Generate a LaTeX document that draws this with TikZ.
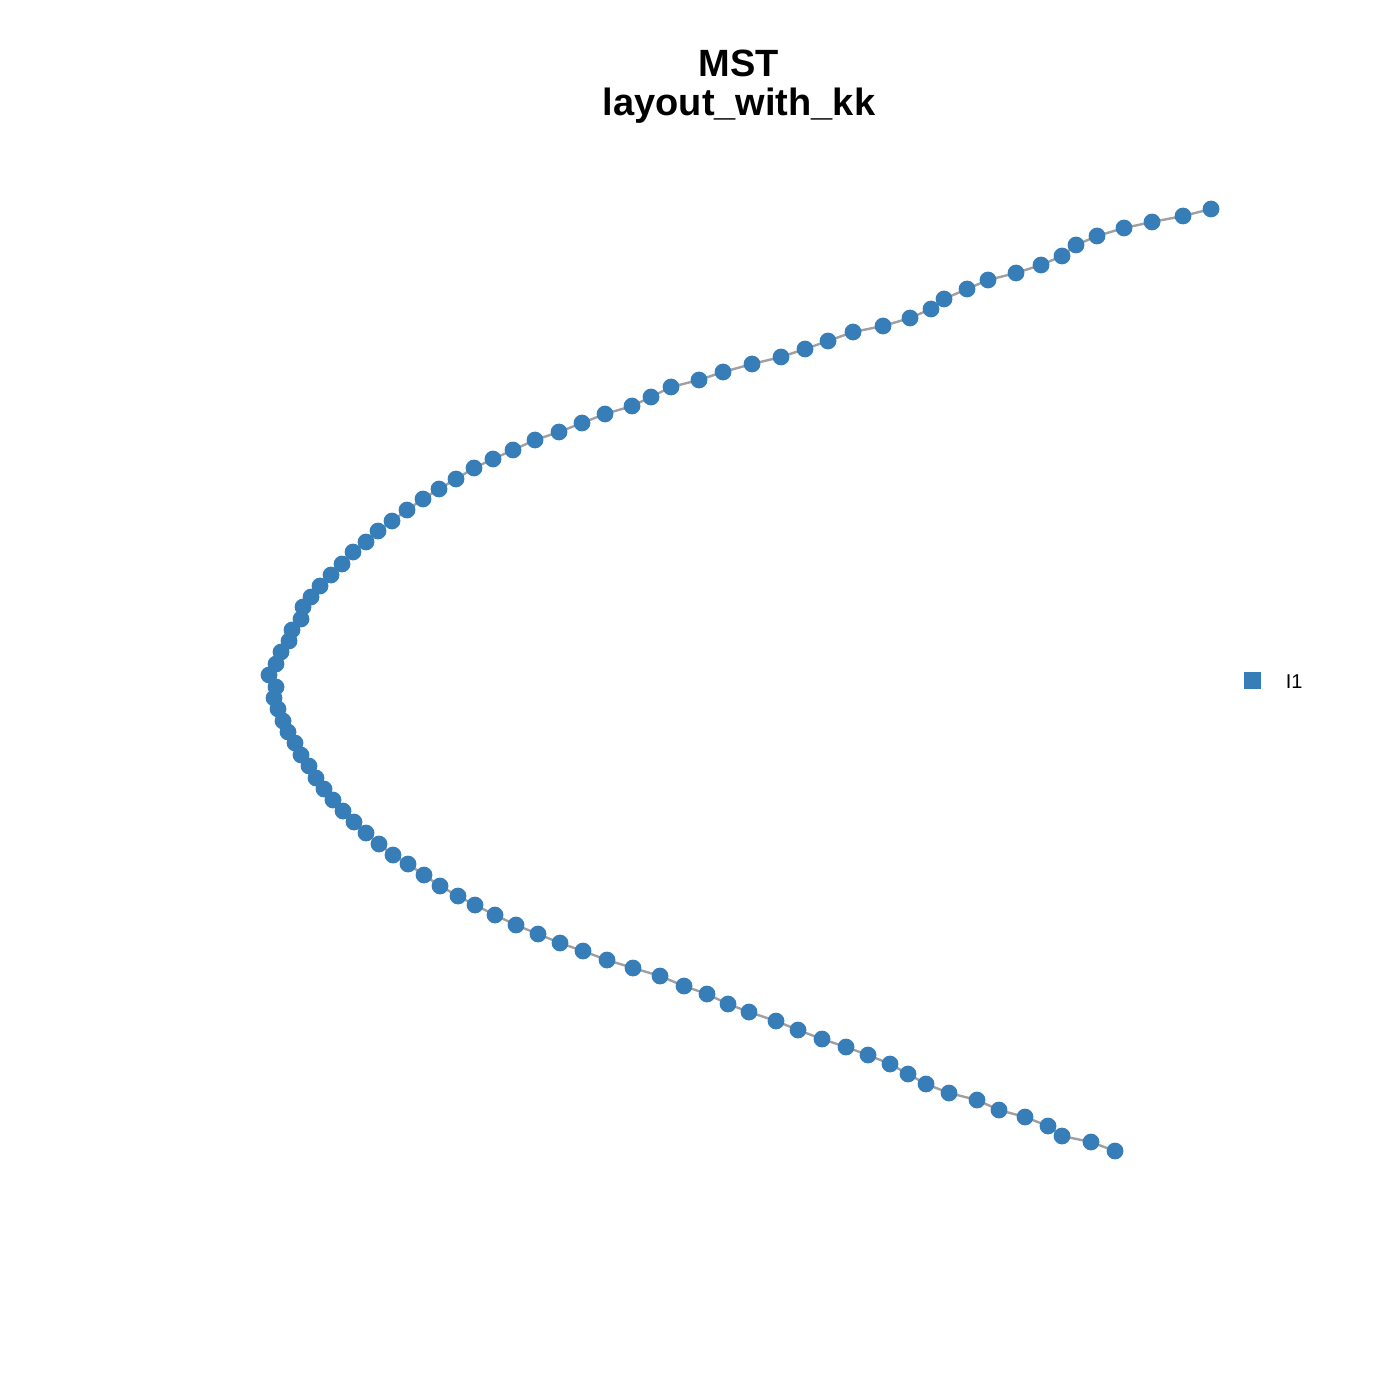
\documentclass[tikz,border=0pt]{standalone}
\usepackage{fontspec}
\setmainfont{Liberation Sans}
\definecolor{dotblue}{HTML}{377EB8}
\definecolor{edgegray}{RGB}{160,160,160}
\begin{document}
\begin{tikzpicture}[x=0.25pt,y=-0.25pt,
  vertex/.style={circle,fill=dotblue,draw=none,minimum size=4.2pt,inner sep=0pt},
  edge/.style={draw=edgegray,line width=0.6pt},
  titletext/.style={font=\fontsize{9.5}{11}\selectfont\bfseries,inner sep=0pt,anchor=base},
  legendtext/.style={font=\fontsize{5}{6}\selectfont,inner sep=0pt,anchor=base west},
  legendkey/.style={fill=dotblue,draw=none,minimum size=4.25pt,inner sep=0pt}]
\useasboundingbox (0,0) rectangle (1400,1400);
\foreach \px/\py [count=\i] in {1211/209,1183/216,1152/222,1124/228,1097/236,1076/245,1062/256,1041/265,1016/273,988/280,967/289,944/299,931/309,910/318,883/326,853/332,828/341,805/349,781/357,752/364,723/372,699/380,671/387,651/397,632/406,605/414,582/423,559/432,535/440,513/450,493/459,474/468,456/479,439/489,423/499,407/510,392/521,378/531,366/542,353/552,342/564,331/575,320/586,311/597,303/607,301/619,292/630,289/641,281/652,276/664,269/675,276/687,274/698,278/709,283/721,288/732,295/743,301/755,309/766,316/778,324/789,333/800,343/811,354/822,366/833,379/844,393/855,408/864,424/875,440/886,458/896,475/905,495/915,516/925,538/934,560/943,583/951,607/960,633/968,660/976,684/986,707/994,728/1004,749/1012,776/1021,798/1030,822/1039,846/1047,868/1055,890/1064,908/1074,926/1084,949/1093,977/1100,999/1110,1025/1117,1048/1126,1062/1136,1091/1142,1115/1151}
  {\coordinate (n\i) at (\px,\py);}
\foreach \i [evaluate=\i as \j using {int(\i+1)}] in {1,...,99}
  {\draw[edge] (n\i) -- (n\j);}
\foreach \i in {1,...,100}
  {\node[vertex] (d\i) at (n\i) {};}
\node[titletext] (title1) at (739,77) {MST};
\node[titletext] (title2) at (739,116) {layout\_with\_kk};
\node[legendkey] (key) at (1252,680) {};
\node[legendtext] (keylabel) at (1285,688) {I1};
\end{tikzpicture}
\end{document}
